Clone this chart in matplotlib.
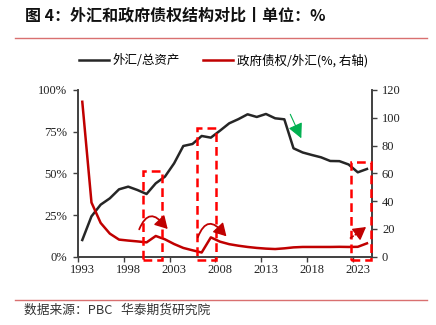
import numpy as np
import matplotlib
matplotlib.use("Agg")
import matplotlib.pyplot as plt
from matplotlib.patches import Rectangle

plt.rcParams["font.family"] = ["Noto Sans CJK SC", "DejaVu Sans"]

# data
years = list(range(1993, 2025))
fx_share = [10.0, 24.2, 31.2, 35.0, 40.4, 42.0, 40.0, 37.6, 44.0, 48.0,
            56.0, 66.4, 67.6, 72.4, 71.4, 75.6, 80.0, 82.5, 85.4, 83.8,
            85.6, 83.0, 82.4, 65.0, 62.5, 61.0, 59.6, 57.4, 57.3, 55.3,
            50.6, 52.6]
gov_ratio = [111.5, 39.0, 24.3, 16.6, 12.3, 11.6, 11.0, 10.3, 14.9, 12.5,
             9.1, 6.3, 4.6, 3.0, 13.9, 10.8, 9.0, 7.9, 7.0, 6.3,
             5.8, 5.5, 6.0, 6.7, 7.0, 7.0, 7.0, 7.0, 7.1, 7.0,
             7.1, 9.6]
xtick_years = [1993, 1998, 2003, 2008, 2013, 2018, 2023]
left_ticks = [0, 25, 50, 75, 100]
right_ticks = [0, 20, 40, 60, 80, 100, 120]

fig = plt.figure(figsize=(4.36, 3.25), dpi=100)
ax = fig.add_axes([0.1782, 0.2102, 0.674, 0.513])
ax2 = ax.twinx()

l1, = ax.plot(years, fx_share, color="#262626", lw=1.8, label="外汇/总资产")
l2, = ax2.plot(years, gov_ratio, color="#c00000", lw=1.8, label="政府债权/外汇(%, 右轴)")

ax.set_xlim(1992.5, 2024.5)
ax.set_ylim(0, 100)
ax2.set_ylim(0, 120)

# tick marks between categories, labels on the years
ax.set_xticks([y - 0.5 for y in xtick_years])
ax.set_xticklabels([])
ax.set_xticks(xtick_years, minor=True)
ax.set_xticklabels([str(y) for y in xtick_years], minor=True)
ax.tick_params(axis="x", which="minor", length=0, pad=5)
ax.tick_params(axis="x", which="major", length=3.5, width=1, color="#404040")

ax.set_yticks(left_ticks)
ax.set_yticklabels([f"{v}%" for v in left_ticks])
ax2.set_yticks(right_ticks)
ax.tick_params(axis="y", length=3.5, width=1, color="#404040", pad=4)
ax2.tick_params(axis="y", length=3.5, width=1, color="#404040", pad=4)

for a in (ax, ax2):
    for lab in a.get_xticklabels(which="both") + a.get_yticklabels():
        lab.set_fontfamily("Liberation Serif")
        lab.set_fontsize(9)
        lab.set_color("#222222")
    a.spines["top"].set_visible(False)
    for s in ("left", "right", "bottom"):
        a.spines[s].set_color("#404040")
        a.spines[s].set_linewidth(1.2)

# annotations (left axis data coords)
rects = [(1999.57, 2001.71, 51.6), (2005.47, 2007.57, 77.0), (2022.28, 2024.39, 57.0)]
for x0, x1, top in rects:
    ax2.add_patch(Rectangle((x0, -2.0), x1 - x0, top + 2.0, transform=ax.transData,
                            fill=False, ec="#ff0000", lw=1.8, ls=(0, (3.5, 2)),
                            clip_on=False, zorder=5))


def arrow(start, end, style, **kw):
    ax2.annotate("", xy=end, xytext=start, xycoords=ax.transData,
                 textcoords=ax.transData,
                 arrowprops=dict(arrowstyle=style, shrinkA=0, shrinkB=0, **kw), zorder=6)


head = "-|>,head_length=0.7,head_width=0.4"
# curved arrows: arc without head, then a short solid head at the tip
for (xa, ya), (xb, yb) in [((1999.2, 16.4), (2002.3, 16.6)),
                           ((2005.58, 11.6), (2008.7, 12.2))]:
    arrow((xa, ya), (xb - 0.3, yb + 1.6), "-", color="#c00000", lw=1.3,
          connectionstyle="arc3,rad=-0.9")
    arrow((xb - 0.65, yb + 3.8), (xb, yb), head, color="#c00000", lw=1.0,
          mutation_scale=11)

# dashed shaft + solid head
arrow((2022.2, 11.2), (2023.5, 16.0), "-", color="#c00000", lw=1.2, ls=(0, (2, 1.5)))
arrow((2023.2, 14.9), (2023.9, 17.8), head, color="#c00000", lw=1.0, mutation_scale=11)

# green arrow
arrow((2015.65, 85.4), (2016.85, 71.0), "-|>,head_length=0.9,head_width=0.45",
      color="#00b050", lw=0.8)

fig.legend(handles=[l1, l2], loc="center", bbox_to_anchor=(0.513, 1 - 60.7 / 325),
           ncol=2, frameon=False, fontsize=9, handlelength=2.4,
           columnspacing=1.85, handletextpad=0.33)

# title, rules and source
fig.text(0.057, 0.953, "图 4：外汇和政府债权结构对比丨单位：%", fontsize=11.5,
         fontweight="bold", va="center", ha="left", color="#111111")
fig.add_artist(plt.Line2D([0.034, 0.98], [1 - 37.7 / 325] * 2, color="#d97070", lw=1))
fig.add_artist(plt.Line2D([0.034, 0.98], [1 - 300 / 325] * 2, color="#d97070", lw=1))
fig.text(0.055, 1 - 310 / 325, "数据来源：PBC   华泰期货研究院", fontsize=9.2,
         va="center", ha="left", color="#333333")

fig.savefig("out.png", dpi=100)
